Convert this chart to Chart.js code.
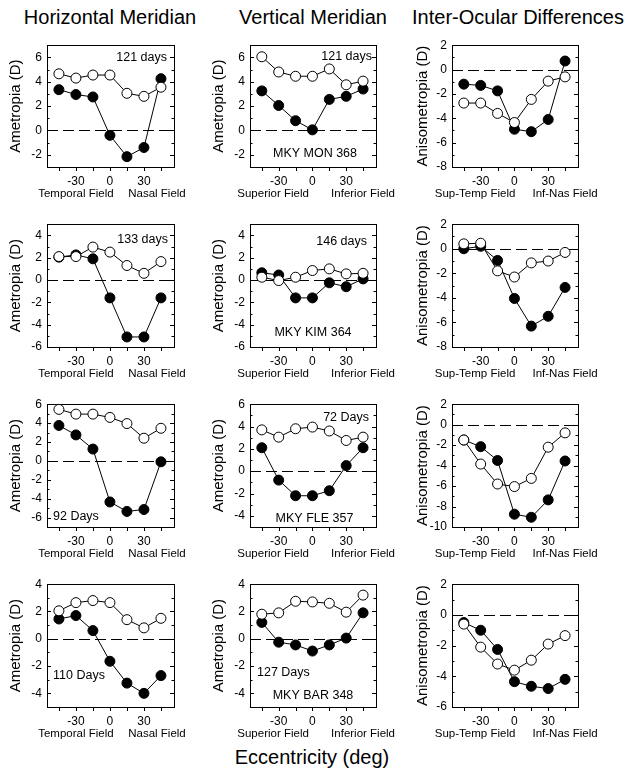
<!DOCTYPE html>
<html><head><meta charset="utf-8">
<script src="https://cdn.jsdelivr.net/npm/chart.js@4"></script>
<style>
html,body{margin:0;padding:0;background:#fff;}
#wrap{position:relative;width:626px;height:773px;overflow:hidden;font-family:"Liberation Sans",Arial,Helvetica,sans-serif;color:#000;background:#fff;}
canvas{position:absolute;}
.t{position:absolute;white-space:nowrap;transform:translate(-50%,-50%);font-size:20px;line-height:1;}
</style></head><body>
<div id="wrap">
<div class="t" style="left:110px;top:17px">Horizontal Meridian</div>
<div class="t" style="left:313px;top:17px">Vertical Meridian</div>
<div class="t" style="left:518px;top:17px">Inter-Ocular Differences</div>
<div class="t" style="left:312px;top:757px">Eccentricity (deg)</div>
</div>
<script>
Chart.defaults.font.family = '"Liberation Sans", Arial, Helvetica, sans-serif';
Chart.defaults.color = '#000';

// ---------- data ----------
const eccentricity = [-45, -30, -15, 0, 15, 30, 45];
const xTickMarks = [-45, -30, -15, 0, 15, 30, 45];
const xTickLabels = [-30, 0, 30];

// Row 1 (MKY MON 368)
const h1_open   = [4.65, 4.3, 4.55, 4.55, 3.05, 2.8, 3.55];
const h1_filled = [3.35, 2.95, 2.75, -0.4, -2.15, -1.4, 4.25];
const v1_open   = [6.05, 4.8, 4.45, 4.45, 5.05, 3.75, 4.05];
const v1_filled = [3.25, 2.05, 0.8, 0.05, 2.55, 2.8, 3.4];
const d1_open   = [-2.75, -2.75, -3.6, -4.35, -2.45, -0.95, -0.6];
const d1_filled = [-1.2, -1.3, -1.75, -4.9, -5.1, -4.1, 0.7];
// Row 2 (MKY KIM 364)
const h2_open   = [2.1, 2.1, 2.95, 2.5, 1.3, 0.6, 1.65];
const h2_filled = [2.05, 2.25, 1.9, -1.6, -5.1, -5.1, -1.6];
const v2_open   = [0.25, -0.05, 0.25, 0.85, 1.0, 0.55, 0.6];
const v2_filled = [0.65, 0.45, -1.6, -1.6, -0.25, -0.6, 0.1];
const d2_open   = [0.4, 0.45, -1.8, -2.3, -1.15, -1.0, -0.3];
const d2_filled = [0.0, 0.2, -0.95, -4.05, -6.3, -5.5, -3.15];
// Row 3 (MKY FLE 357)
const h3_open   = [5.45, 4.95, 4.95, 4.6, 3.95, 2.4, 3.45];
const h3_filled = [3.75, 2.75, 1.25, -4.35, -5.35, -5.15, -0.1];
const v3_open   = [3.7, 3.05, 3.8, 3.95, 3.6, 2.75, 3.05];
const v3_filled = [2.1, -0.8, -2.2, -2.2, -1.75, 0.5, 2.1];
const d3_open   = [-1.5, -3.85, -5.8, -6.05, -5.25, -2.2, -0.8];
const d3_filled = [-1.5, -2.15, -3.5, -8.75, -9.05, -7.35, -3.55];
// Row 4 (MKY BAR 348)
const h4_open   = [2.05, 2.65, 2.8, 2.65, 1.4, 0.8, 1.5];
const h4_filled = [1.45, 1.7, 0.6, -1.65, -3.25, -4.0, -2.7];
const v4_open   = [1.8, 1.9, 2.75, 2.7, 2.6, 1.95, 3.2];
const v4_filled = [1.2, -0.25, -0.45, -0.9, -0.45, 0.05, 1.9];
const d4_open   = [-0.6, -2.1, -3.2, -3.6, -2.95, -1.9, -1.35];
const d4_filled = [-0.5, -1.0, -2.25, -4.35, -4.65, -4.8, -4.2];

// y tick labels
const yTicks_m3p7  = [-2, 0, 2, 4, 6];
const yTicks_m8p2  = [-8, -6, -4, -2, 0, 2];
const yTicks_m6p5  = [-6, -4, -2, 0, 2, 4];
const yTicks_m7p6  = [-6, -4, -2, 0, 2, 4, 6];
const yTicks_m5p6  = [-4, -2, 0, 2, 4, 6];
const yTicks_m10p2 = [-10, -8, -6, -4, -2, 0, 2];
const yTicks_m5p4  = [-4, -2, 0, 2, 4];
const yTicks_m6p2  = [-6, -4, -2, 0, 2];

const yTitles = ['Ametropia (D)', 'Ametropia (D)', 'Anisometropia (D)'];
const fieldLabels = [['Temporal Field', 'Nasal Field'], ['Superior Field', 'Inferior Field'], ['Sup-Temp Field', 'Inf-Nas Field']];

// ---------- layout ----------
const colX = [47, 250, 452], colW = [127, 126, 126];
const rowY = [43, 222, 402, 582], rowH = [124, 125, 125, 125];
const titleOffset = [31, 31, 29.5];
const fieldPos = [[-30, 41.5], [-35, 45], [-35, 45]];
const X_MIN = -55.5, X_MAX = 56.5;

const panels = [
  {r:0,c:0, open:h1_open, filled:h1_filled, min:-3, max:7, ticks:yTicks_m3p7,
   notes:[{t:'121 days', x:-7, y:12, a:'right'}]},
  {r:0,c:1, open:v1_open, filled:v1_filled, min:-3, max:7, ticks:yTicks_m3p7,
   notes:[{t:'121 days', x:-4, y:11, a:'right'}, {t:'MKY MON 368', x:65, y:108, a:'center'}]},
  {r:0,c:2, open:d1_open, filled:d1_filled, min:-8, max:2, ticks:yTicks_m8p2, notes:[]},
  {r:1,c:0, open:h2_open, filled:h2_filled, min:-6, max:5, ticks:yTicks_m6p5,
   notes:[{t:'133 days', x:-6, y:15, a:'right'}]},
  {r:1,c:1, open:v2_open, filled:v2_filled, min:-6, max:5, ticks:yTicks_m6p5,
   notes:[{t:'146 days', x:-9, y:17, a:'right'}, {t:'MKY KIM 364', x:63, y:108, a:'center'}]},
  {r:1,c:2, open:d2_open, filled:d2_filled, min:-8, max:2, ticks:yTicks_m8p2, notes:[]},
  {r:2,c:0, open:h3_open, filled:h3_filled, min:-7, max:6, ticks:yTicks_m7p6,
   notes:[{t:'92 Days', x:6, y:112, a:'left'}]},
  {r:2,c:1, open:v3_open, filled:v3_filled, min:-5, max:6, ticks:yTicks_m5p6,
   notes:[{t:'72 Days', x:-7, y:13, a:'right'}, {t:'MKY FLE 357', x:64.5, y:114, a:'center'}]},
  {r:2,c:2, open:d3_open, filled:d3_filled, min:-10, max:2, ticks:yTicks_m10p2, notes:[]},
  {r:3,c:0, open:h4_open, filled:h4_filled, min:-5, max:4, ticks:yTicks_m5p4,
   notes:[{t:'110 Days', x:6, y:91, a:'left'}]},
  {r:3,c:1, open:v4_open, filled:v4_filled, min:-5, max:4, ticks:yTicks_m5p4,
   notes:[{t:'127 Days', x:7, y:88, a:'left'}, {t:'MKY BAR 348', x:63, y:111, a:'center'}]},
  {r:3,c:2, open:d4_open, filled:d4_filled, min:-6, max:2, ticks:yTicks_m6p2, notes:[]}
];

const FONT = '"Liberation Sans", Arial, Helvetica, sans-serif';

const decor = {
  id: 'decor',
  beforeDatasetsDraw(chart) {
    const {ctx, chartArea: a, scales: {x, y}} = chart;
    const p = chart.options.plugins.decor;
    ctx.save();
    ctx.strokeStyle = '#000';
    // dashed zero line
    ctx.lineWidth = 1.2;
    ctx.setLineDash([11, 5]);
    const y0 = Math.round(y.getPixelForValue(0)) + 0.5;
    ctx.beginPath(); ctx.moveTo(a.left, y0); ctx.lineTo(a.right, y0); ctx.stroke();
    ctx.setLineDash([]);
    // frame
    ctx.lineWidth = 1;
    ctx.strokeRect(Math.round(a.left) + 0.5, Math.round(a.top) + 0.5, Math.round(a.right - a.left), Math.round(a.bottom - a.top));
    // y ticks (major + minor, inside, both sides)
    ctx.beginPath();
    for (let v = Math.ceil(y.min); v <= Math.floor(y.max); v++) {
      const py = Math.round(y.getPixelForValue(v)) + 0.5;
      const len = p.ticks.includes(v) ? 4 : 2.5;
      ctx.moveTo(a.left, py); ctx.lineTo(a.left + len, py);
      ctx.moveTo(a.right, py); ctx.lineTo(a.right - len, py);
    }
    // x ticks (outside bottom)
    xTickMarks.forEach(v => {
      const px = Math.round(x.getPixelForValue(v)) + 0.5;
      ctx.moveTo(px, a.bottom); ctx.lineTo(px, a.bottom + 4);
    });
    ctx.stroke();
    ctx.restore();
  },
  afterDraw(chart) {
    const {ctx, chartArea: a, scales: {x}} = chart;
    const p = chart.options.plugins.decor;
    ctx.save();
    ctx.fillStyle = '#000';
    ctx.textBaseline = 'middle';
    ctx.font = '11.5px ' + FONT;
    ctx.textAlign = 'center';
    p.fields.forEach((t, i) => ctx.fillText(t, x.getPixelForValue(p.fieldPos[i]), a.bottom + 27));
    ctx.font = '12.5px ' + FONT;
    p.notes.forEach(n => {
      ctx.textAlign = n.a;
      let px = n.a === 'right' ? a.right + n.x : a.left + n.x;
      ctx.fillText(n.t, px, a.top + n.y);
    });
    ctx.restore();
  }
};

const wrap = document.getElementById('wrap');
const L = 50, T = 10, R = 30, B = 38;

panels.forEach(p => {
  const bx = colX[p.c], by = rowY[p.r], bw = colW[p.c], bh = rowH[p.r];
  const cv = document.createElement('canvas');
  cv.width = L + bw + R; cv.height = T + bh + B;
  cv.style.left = (bx - L) + 'px'; cv.style.top = (by - T) + 'px';
  wrap.appendChild(cv);
  const pt = (arr) => eccentricity.map((e, i) => ({x: e, y: arr[i]}));
  const titleFontSize = 15;
  new Chart(cv, {
    type: 'line',
    data: {
      datasets: [
        {label: 'open', data: pt(p.open), borderColor: '#000', borderWidth: 1, backgroundColor: '#fff',
         pointBackgroundColor: '#fff', pointBorderColor: '#000', pointBorderWidth: 1, pointRadius: 5, tension: 0, clip: false},
        {label: 'filled', data: pt(p.filled), borderColor: '#000', borderWidth: 1, backgroundColor: '#000',
         pointBackgroundColor: '#000', pointBorderColor: '#000', pointBorderWidth: 1, pointRadius: 5, tension: 0, clip: false}
      ]
    },
    options: {
      responsive: false, animation: false, devicePixelRatio: 1,
      events: [],
      layout: {padding: {left: 0, top: T, right: R, bottom: 0}},
      plugins: {
        legend: {display: false}, tooltip: {enabled: false},
        decor: {ticks: p.ticks, fields: fieldLabels[p.c], fieldPos: fieldPos[p.c], notes: p.notes}
      },
      scales: {
        x: {
          type: 'linear', min: X_MIN, max: X_MAX,
          grid: {display: false, drawTicks: false}, border: {display: false},
          afterBuildTicks: s => { s.ticks = xTickMarks.map(v => ({value: v})); },
          afterFit: s => { s.height = B; },
          ticks: {callback: v => xTickLabels.includes(v) ? String(v) : '', font: {size: 12}, color: '#000',
                  padding: 7, maxRotation: 0, minRotation: 0, autoSkip: false}
        },
        y: {
          type: 'linear', min: p.min, max: p.max,
          grid: {display: false, drawTicks: false}, border: {display: false},
          afterBuildTicks: s => { s.ticks = p.ticks.map(v => ({value: v})); },
          afterFit: s => { s.width = L; },
          ticks: {font: {size: 12}, color: '#000', padding: 5},
          title: {display: true, text: yTitles[p.c], color: '#000', font: {size: titleFontSize},
                  padding: {top: (L - titleOffset[p.c]) - titleFontSize * 1.2 / 2, bottom: 0}}
        }
      }
    },
    plugins: [decor]
  });
});
</script>
</body></html>
